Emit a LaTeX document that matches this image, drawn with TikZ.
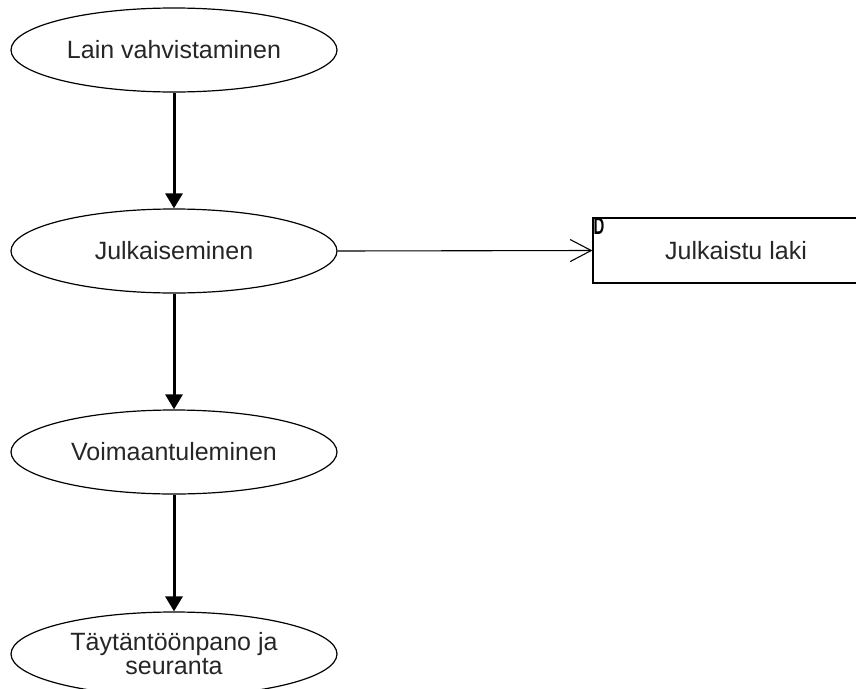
\documentclass[tikz,border=0pt]{standalone}
\usepackage{fontspec}
\setmainfont{Liberation Sans}
\usetikzlibrary{shapes.geometric,arrows.meta}
\begin{document}
\begin{tikzpicture}[x=1pt,y=-1pt,
  proc/.style={draw,ellipse,line width=1.2pt,minimum width=326pt,minimum height=84pt,inner sep=0pt,
    font=\fontsize{25}{26}\selectfont,align=center,text=black!85},
  store/.style={draw,rectangle,line width=1.2pt,minimum width=286pt,minimum height=65pt,inner sep=0pt,
    font=\fontsize{25}{26}\selectfont,text=black!85},
  flow/.style={line width=3pt,-{Triangle[length=15pt,width=17pt]}},
  dataflow/.style={line width=1.1pt,-{Straight Barb[length=21pt,width=22pt,line width=1.1pt]}}]
\useasboundingbox (0,0) rectangle (856,688);
\clip (0,0) rectangle (856,688);
\node[proc] (p1) at (174,50) {Lain vahvistaminen};
\node[proc] (p2) at (174,251) {Julkaiseminen};
\node[proc] (p3) at (174,452) {Voimaantuleminen};
\node[proc] (p4) at (174,654) {Täytäntöönpano ja\\[-2pt]seuranta};
\node[store] (d1) at (736,250.5) {Julkaistu laki};
\node[anchor=north west,inner sep=0pt,font=\bfseries\fontsize{24}{24}\selectfont] (dlabel)
  at ([xshift=1pt,yshift=-0.5pt]d1.north west) {\scalebox{0.62}[1]{D}};
\draw[flow] (p1.south) -- (p2.north);
\draw[flow] (p2.south) -- (p3.north);
\draw[flow] (p3.south) -- (p4.north);
\draw[dataflow] (p2.east) -- (d1.west);
\end{tikzpicture}
\end{document}
